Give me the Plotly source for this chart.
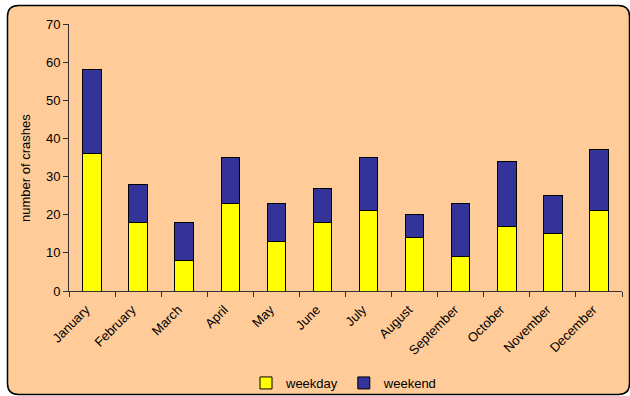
import plotly.graph_objects as go

# Monthly crash counts, split into weekday and weekend
months = ["January", "February", "March", "April", "May", "June",
          "July", "August", "September", "October", "November", "December"]
weekday = [36, 18, 8, 23, 13, 18, 21, 14, 9, 17, 15, 21]
weekend = [22, 10, 10, 12, 10, 9, 14, 6, 14, 17, 10, 16]
y_ticks = [0, 10, 20, 30, 40, 50, 60, 70]

W, H = 630, 396
ML, MR, MT, MB = 69, 8, 24, 105
PW, PH = W - ML - MR, H - MT - MB


def px_to_paper(x, y):
    return (x - ML) / PW, (H - MB - y) / PH


def rounded_rect_path(x0, y0, x1, y1, r):
    def p(x, y):
        px, py = px_to_paper(x, y)
        return f"{px:.5f},{py:.5f}"
    parts = [
        "M" + p(x0 + r, y0),
        "L" + p(x1 - r, y0),
        "Q" + p(x1, y0) + " " + p(x1, y0 + r),
        "L" + p(x1, y1 - r),
        "Q" + p(x1, y1) + " " + p(x1 - r, y1),
        "L" + p(x0 + r, y1),
        "Q" + p(x0, y1) + " " + p(x0, y1 - r),
        "L" + p(x0, y0 + r),
        "Q" + p(x0, y0) + " " + p(x0 + r, y0),
        "Z",
    ]
    return " ".join(parts)


font = dict(family="Liberation Sans, Arial, sans-serif", size=13, color="#000000")

fig = go.Figure()
fig.add_trace(go.Bar(
    x=months, y=weekday, name="weekday",
    marker=dict(color="#FFFF00", line=dict(color="#000000", width=1)),
))
fig.add_trace(go.Bar(
    x=months, y=weekend, name="weekend",
    marker=dict(color="#333399", line=dict(color="#000000", width=1)),
))

fig.update_layout(
    width=W, height=H,
    margin=dict(l=ML, r=MR, t=MT, b=MB, pad=0, autoexpand=False),
    barmode="stack",
    bargap=0.6,
    paper_bgcolor="#FFFFFF",
    plot_bgcolor="rgba(0,0,0,0)",
    font=font,
    showlegend=True,
    legend=dict(
        orientation="h", x=(344 - ML) / PW, xanchor="center",
        yref="container", y=(H - 383) / H, yanchor="middle",
        bgcolor="rgba(0,0,0,0)", font=font,
        traceorder="normal", itemwidth=30,
    ),
    xaxis=dict(
        type="category",
        tickangle=-45,
        tickson="boundaries",
        ticks="outside", ticklen=5, tickcolor="#333333", tickwidth=1,
        ticklabelstandoff=5, ticklabelshift=-6,
        showline=True, linecolor="#333333", linewidth=1,
        showgrid=False, tickfont=font, automargin=False,
    ),
    yaxis=dict(
        range=[0, 70],
        tickvals=y_ticks,
        ticks="outside", ticklen=5, tickcolor="#333333", tickwidth=1,
        showline=True, linecolor="#333333", linewidth=1,
        showgrid=False, zeroline=False, tickfont=font, automargin=False,
    ),
    shapes=[dict(
        type="path", xref="paper", yref="paper", layer="below",
        path=rounded_rect_path(7.5, 5.5, 629.5, 394.5, 11),
        fillcolor="#FFCC99", line=dict(color="#000000", width=1.5),
    )],
    annotations=[dict(
        text="number of crashes", xref="paper", yref="paper",
        x=px_to_paper(25, 0)[0], y=px_to_paper(0, 168)[1],
        xanchor="center", yanchor="middle", textangle=-90,
        showarrow=False, font=font,
    )],
)

fig.write_html("out.html")
